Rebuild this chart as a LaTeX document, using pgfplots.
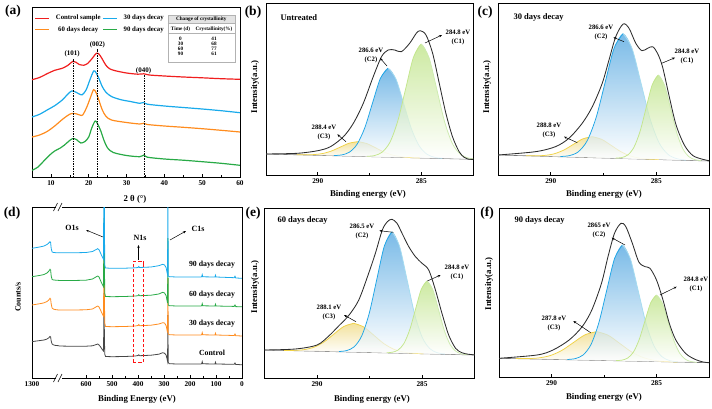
\documentclass[border=0pt]{standalone}
\usepackage{fontspec}
\setmainfont{Liberation Serif}
\usepackage{pgfplots}
\usepackage{pgfplotstable}
\pgfplotsset{compat=1.18}
\usetikzlibrary{arrows.meta}

\definecolor{cRed}{RGB}{240,30,30}
\definecolor{cBlue}{RGB}{25,170,235}
\definecolor{cOrange}{RGB}{255,140,30}
\definecolor{cGreen}{RGB}{40,170,70}
\definecolor{cCtrl}{RGB}{70,70,70}
\definecolor{envC}{RGB}{45,45,45}
\definecolor{baseC}{RGB}{115,115,115}
\definecolor{cOneL}{RGB}{195,230,140}
\definecolor{cOneR}{RGB}{205,235,175}
\definecolor{cOneF}{RGB}{185,225,125}
\definecolor{cTwoL}{RGB}{30,165,230}
\definecolor{cTwoR}{RGB}{165,220,240}
\definecolor{cTwoF}{RGB}{70,160,222}
\definecolor{cThrL}{RGB}{240,210,70}
\definecolor{cThrF}{RGB}{238,215,120}
\definecolor{boxRed}{RGB}{255,20,20}

% ---------- C 1s fits: untreated ----------
\pgfplotstableread{
E y
287.625 18.67
287.25 19.49
286.875 23.02
286.5 33.22
286.125 54.62
285.75 86.52
285.375 117.82
285.0 131.03
284.625 117.43
284.25 85.73
283.875 53.43
283.5 31.63
283.125 21.03
282.75 17.10
282.375 15.88
}\bCone
\pgfplotstableread{
E y
289.225 19.46
288.85 20.06
288.475 22.77
288.1 30.71
287.725 47.37
287.35 72.27
286.975 96.57
286.6 106.87
286.225 96.17
285.85 71.47
285.475 46.18
285.1 29.12
284.725 20.78
284.35 17.67
283.975 16.68
}\bCtwo
\pgfplotstableread{
E y
291.025 20.25
290.6 20.15
290.175 20.42
289.75 21.53
289.325 24.09
288.9 28.01
288.475 31.84
288.05 33.34
287.625 31.39
287.2 27.11
286.775 22.74
286.35 19.74
285.925 18.17
285.5 17.45
285.075 17.10
}\bCthree
\pgfplotstableread{
E y
292.5 21.0
290.99 21.7
290.0 24.3
289.39 28.3
288.76 38.3
288.28 51.7
287.80 71.7
287.32 98.3
286.92 118.3
286.60 125.0
286.28 125.0
285.96 123.3
285.56 131.7
285.24 141.7
285.05 144.3
284.77 140.0
284.45 121.7
284.13 91.7
283.81 61.7
283.49 38.3
283.17 23.3
282.93 17.7
282.74 15.9
282.5 15.6
}\bEnv

% ---------- 30 days ----------
\pgfplotstableread{
E y
286.93 16.85
286.64 17.42
286.35 20.02
286.06 27.59
285.77 43.43
285.48 67.10
285.19 90.27
284.90 100.04
284.61 89.93
284.32 66.40
284.03 42.39
283.74 26.19
283.45 18.28
283.16 15.34
282.87 14.41
}\cCone
\pgfplotstableread{
E y
289.545 18.51
289.12 19.36
288.695 23.21
288.27 34.37
287.845 57.80
287.42 92.76
286.995 127.00
286.57 141.44
286.145 126.49
285.72 91.74
285.295 56.27
284.87 32.33
284.445 20.66
284.02 16.30
283.595 14.94
}\cCtwo
\pgfplotstableread{
E y
291.18 19.26
290.73 19.17
290.28 19.59
289.83 21.24
289.38 24.95
288.93 30.60
288.48 36.12
288.03 38.32
287.58 35.58
287.13 29.52
286.68 23.33
286.23 19.08
285.78 16.89
285.33 15.93
284.88 15.48
}\cCthree
\pgfplotstableread{
E y
292.5 20.0
290.73 23.3
289.78 28.3
289.14 36.7
288.51 51.7
288.03 68.3
287.56 91.7
287.24 115.0
286.92 138.3
286.57 151.0
286.29 146.7
285.97 131.7
285.68 124.3
285.41 126.7
285.17 128.3
284.94 121.7
284.70 108.0
284.38 78.0
284.06 50.0
283.67 30.0
283.27 19.5
282.8 15.7
282.5 14.3
}\cEnv

% ---------- 60 days ----------
\pgfplotstableread{
E y
286.685 25.25
286.41 25.77
286.135 28.02
285.86 34.54
285.585 48.21
285.31 68.62
285.035 88.60
284.76 97.03
284.485 88.32
284.21 68.07
283.935 47.39
283.66 33.44
283.385 26.64
283.11 24.12
282.835 23.33
}\eCone
\pgfplotstableread{
E y
288.95 26.50
288.59 27.40
288.23 31.20
287.87 42.10
287.51 64.90
287.15 98.90
286.79 132.20
286.43 146.27
286.07 131.84
285.71 98.18
285.35 63.82
284.99 40.66
284.63 29.40
284.27 25.24
283.91 23.98
}\eCtwo
\pgfplotstableread{
E y
291.575 27.60
291.1 27.62
290.625 28.32
290.15 30.73
289.675 35.94
289.2 43.82
288.725 51.53
288.25 54.68
287.775 51.06
287.3 42.87
286.825 34.51
286.35 28.83
285.875 25.95
285.4 24.77
284.925 24.27
}\eCthree
\pgfplotstableread{
E y
292.5 28.0
291.03 29.0
290.0 33.0
289.44 42.0
288.97 52.0
288.49 62.5
288.01 78.0
287.54 104.7
287.22 124.7
286.89 148.0
286.65 156.3
286.43 158.7
286.19 154.7
285.95 144.7
285.63 131.3
285.31 121.3
285.0 114.7
284.68 108.0
284.36 88.0
284.05 64.7
283.73 43.0
283.4 29.7
283.1 25.3
282.78 23.7
282.5 23.2
}\eEnv

% ---------- 90 days ----------
\pgfplotstableread{
E y
286.925 16.40
286.65 16.87
286.375 18.93
286.1 24.89
285.825 37.38
285.55 56.03
285.275 74.29
285.0 82.00
284.725 74.05
284.45 55.55
284.175 36.66
283.9 23.93
283.625 17.72
283.35 15.41
283.075 14.70
}\fCone
\pgfplotstableread{
E y
289.245 17.53
288.87 18.39
288.495 22.03
288.12 32.46
287.745 54.28
287.37 86.79
286.995 118.65
286.62 132.11
286.245 118.32
285.87 86.13
285.495 53.29
285.12 31.14
284.745 20.38
284.37 16.41
283.995 15.22
}\fCtwo
\pgfplotstableread{
E y
291.7 18.41
291.15 18.43
290.6 19.12
290.05 21.50
289.5 26.70
288.95 34.55
288.4 42.23
287.85 45.35
287.3 41.74
286.75 33.58
286.2 25.25
285.65 19.57
285.1 16.70
284.55 15.52
284.0 15.02
}\fCthree
\pgfplotstableread{
E y
292.5 18.7
290.69 22.0
289.93 27.0
289.16 37.0
288.54 50.3
288.08 67.0
287.62 93.7
287.31 120.3
287.0 143.7
286.69 153.7
286.46 150.3
286.15 133.7
285.84 115.0
285.54 110.3
285.31 108.7
285.0 97.0
284.69 77.0
284.39 53.7
284.08 37.0
283.62 23.7
283.17 17.7
282.78 15.0
282.5 14.3
}\fEnv

\newcommand\fs[1]{\fontsize{#1}{#1}\selectfont\bfseries}

\tikzset{
  lbl/.style={font=\fontsize{6.7}{9}\selectfont\bfseries, align=center},
  arr/.style={-{Stealth[length=3pt,width=2.4pt]}, line width=0.5pt, black},
}

\pgfplotsset{
  panel/.style={
    scale only axis, anchor=south west,
    axis line style={line width=0.8pt},
    tick align=inside, xtick pos=lower, ytick=\empty,
    major tick length=3pt, minor tick length=1.8pt,
    every tick/.style={black, line width=0.6pt},
    tick label style={font=\fs{7.3}},
    /pgf/number format/assume math mode=true,
    ymin=0,
  },
  xps/.style={panel, xmin=282.5, xmax=292.5, x dir=reverse,
    xtick={285,290}, minor xtick={287.5}},
  cfill/.style={draw=none, top color=#1, bottom color=white, fill opacity=0.72, smooth},
  cline/.style={#1, line width=0.75pt, smooth},
  envline/.style={envC, line width=0.85pt, smooth},
}

% one fitted component: shaded area, then its outline (left and right flanks)
\newcommand\component[5]{% table, fill, left line, right line, centre
  \addplot[cfill=#2] table {#1} -- cycle;
  \addplot[cline=#3, restrict x to domain=#5:300] table {#1};
  \addplot[cline=#4, restrict x to domain=270:#5] table {#1};
}

\begin{document}
\begin{tikzpicture}[x=1pt,y=1pt]
\path[use as bounding box] (0,0) rectangle (712,408);

% ================= (a) XRD =================
\begin{axis}[panel, at={(32pt,231pt)}, width=208pt, height=170pt,
  xmin=5, xmax=60, ymax=170,
  xtick={10,20,30,40,50,60}, minor xtick={15,25,35,45,55},
  legend columns=2,
  legend style={at={(0.012,0.965)}, anchor=north west, draw=none, fill=none,
    font=\fs{6.8}, inner sep=0pt, row sep=1pt,
    /tikz/every odd column/.append style={column sep=4pt}},
  legend image code/.code={\draw[#1, line width=1.2pt] (0pt,0pt) -- (14pt,0pt);},
]
\addplot[cRed, line width=1.2pt, smooth] coordinates {
(5,97.3) (7,99.5) (9,103.3) (11,106.7) (13,108.7) (14.5,111.7) (15.8,115.7) (16.6,114.8)
(17.5,112.5) (18.7,111.8) (19.8,113.8) (21,119) (22,123.7) (22.7,123) (23.5,118.5)
(24.5,112) (25.5,108.3) (27,106.3) (30,104) (33,102.8) (34.6,103.2) (36,102)
(40,101) (45,100) (50,99.2) (55,98.3) (60,97.7)};
\addlegendentry{Control sample}
\addplot[cBlue, line width=1.2pt, smooth] coordinates {
(5,60) (7,62.7) (9,67) (11,71.3) (13,77) (14.5,83) (15.5,86) (16.5,85) (17.5,83)
(18.3,82.3) (19.3,87) (20.3,97) (21.3,106) (21.9,104.5) (22.7,98.5) (23.5,91)
(24.5,85) (26,80.5) (28.5,77.3) (31,75.5) (33.5,73.7) (34.5,74.5) (35.5,72.8)
(40,71) (45,69.5) (50,68) (55,66.3) (60,64.3)};
\addlegendentry{30 days decay}
\addplot[cOrange, line width=1.2pt, smooth] coordinates {
(5,40) (7,42) (9,45.5) (11,51) (13,57.5) (14.5,61.7) (15.5,63.5) (16.6,63.3)
(17.6,62) (18.4,62) (19.5,70) (20.5,80) (21.3,87.3) (22,84) (22.8,75.5) (23.6,67)
(24.5,61) (26,57) (30,54.5) (33.5,53) (34.6,53.8) (35.5,52.5) (40,51) (45,49.7)
(50,48.3) (55,46.7) (60,45)};
\addlegendentry{60 days decay}
\addplot[cGreen, line width=1.2pt, smooth] coordinates {
(5,6.7) (6.5,9.7) (8,15.5) (9.6,21.7) (11,26) (12.5,29) (13.5,31.7) (14.8,36)
(15.8,38.5) (16.8,37.3) (17.9,34) (19,35.5) (20,40) (20.8,49) (21.7,56) (22.3,53.5)
(23.2,46) (24,37) (25,29) (26.5,24.5) (30,21.5) (33.5,20.3) (34.6,22) (35.5,19.8)
(40,18) (45,16.8) (50,15.3) (55,13.7) (60,11.7)};
\addlegendentry{90 days decay}
\addplot[forget plot, black, line width=0.5pt, dash pattern=on 1.5pt off 1pt] coordinates {(15.8,0) (15.8,118)};
\addplot[forget plot, black, line width=0.5pt, dash pattern=on 1.5pt off 1pt] coordinates {(22.3,0) (22.3,128)};
\addplot[forget plot, black, line width=0.5pt, dash pattern=on 1.5pt off 1pt] coordinates {(34.6,0) (34.6,101.7)};
\node[font=\fs{7}] at (axis cs:15.6,123.3) {(101)};
\node[font=\fs{7}] at (axis cs:22.3,132.3) {(002)};
\node[font=\fs{7}] at (axis cs:34.5,106) {(040)};
\end{axis}

% crystallinity table
\fill[gray!22] (167.7,393) rectangle (235,385);
\draw[gray!60, line width=0.4pt] (167.7,393) rectangle (235,346);
\draw[gray!60, line width=0.3pt] (167.7,385) -- (235,385);
\draw[gray!60, line width=0.3pt] (167.7,374.5) -- (235,374.5);
\node[font=\fs{5.2}] at (201.3,389) {Change of crystallinity};
\node[font=\fs{5.2}] at (180.5,379) {Time (d)};
\node[font=\fs{5.2}] at (214,379) {Crystallinity(\%)};
\node[font=\fs{5.2}] at (180.5,369.7) {0};  \node[font=\fs{5.2}] at (214,369.7) {41};
\node[font=\fs{5.2}] at (180.5,364.7) {30}; \node[font=\fs{5.2}] at (214,364.7) {68};
\node[font=\fs{5.2}] at (180.5,359.3) {60}; \node[font=\fs{5.2}] at (214,359.3) {77};
\node[font=\fs{5.2}] at (180.5,354) {90};   \node[font=\fs{5.2}] at (214,354) {61};

\node[font=\fs{8.8}] at (135,209) {2 θ (°)};
\node[font=\fs{13.5}] at (13,397) {(a)};

% ================= (b) untreated =================
\begin{axis}[xps, at={(266pt,233pt)}, width=207pt, height=172pt, ymax=172]
\addplot[baseC, line width=0.6pt] coordinates {(292.5,21.0) (282.5,15.7)};
\component{\bCthree}{cThrF}{cThrL}{cThrL}{288.05}
\component{\bCtwo}{cTwoF}{cTwoL}{cTwoR}{286.6}
\component{\bCone}{cOneF}{cOneL}{cOneR}{285.0}
\addplot[envline] table {\bEnv};
\end{axis}
\node[font=\fs{13.5}] at (253,396) {(b)};
\node[font=\fs{8.5}, anchor=west] at (277,390) {Untreated};
\node[lbl] at (458,371) {284.8 eV\\(C1)};
\draw[arr] (425,365) -- (442,373);
\node[lbl] at (371,353) {286.6 eV\\(C2)};
\draw[arr] (387,342) -- (380,350);
\node[lbl] at (324,276) {288.4 eV\\(C3)};
\draw[arr] (346,266.3) -- (337.3,273.7);
\node[font=\fs{8.8}] at (368,214) {Binding energy (eV)};
\node[font=\fs{8.8}, rotate=90] at (255,321) {Intensity(a.u.)};

% ================= (c) 30 days =================
\begin{axis}[xps, at={(498pt,233pt)}, width=211pt, height=172pt, ymax=172]
\addplot[baseC, line width=0.6pt] coordinates {(292.5,20.0) (282.5,14.0)};
\component{\cCthree}{cThrF}{cThrL}{cThrL}{288.03}
\component{\cCtwo}{cTwoF}{cTwoL}{cTwoR}{286.57}
\component{\cCone}{cOneF}{cOneL}{cOneR}{284.9}
\addplot[envline] table {\cEnv};
\end{axis}
\node[font=\fs{13.5}] at (485,396) {(c)};
\node[font=\fs{8.5}, anchor=west] at (510,391) {30 days decay};
\node[lbl] at (601,375.5) {286.6 eV\\(C2)};
\draw[arr] (624,366.3) -- (613.3,370.7);
\node[lbl] at (687,351.3) {284.8 eV\\(C1)};
\draw[arr] (661.7,344.7) -- (675,350.3);
\node[lbl] at (549,278) {288.8 eV\\(C3)};
\draw[arr] (577.3,265.3) -- (564,271.3);
\node[font=\fs{8.8}] at (604,214) {Binding energy (eV)};
\node[font=\fs{8.8}, rotate=90] at (487,321) {Intensity(a.u.)};

% ================= (d) survey =================
\begin{axis}[panel, at={(32pt,30pt)}, width=210pt, height=171pt, ymax=171,
  x dir=reverse, xmin=0, xmax=1300,
  x coord trafo/.code={\pgfmathparse{ifthenelse(#1>800,703.8+(#1-850)*0.2309,#1)}},
  xtick={0,100,200,300,400,500,600,1300},
  xticklabels={0,100,200,300,400,500,600,1300},
  minor xtick={50,150,250,350,450,550}]
% control
\addplot[cCtrl, line width=0.8pt] coordinates {
(1300,36.3) (1250,36.8) (1200,37.2) (1150,37.6) (1100,38) (1050,39) (1020,40.2) (1000,41.5)
(990,41) (980,37) (965,34) (940,33) (900,32.5) (850,32.3)};
\addplot[cCtrl, line width=0.8pt] coordinates {
(704,32) (650,31.7) (600,31.8) (575,32.2) (560,33.5) (555,34) (550,33) (545,31.5) (540,29.5)
(536,28) (533,27) (531.5,50) (530.5,85) (529.5,50) (528,24) (525,21.5) (500,21.3) (450,21.5)
(410,22) (400,22.5) (397,23.2) (394,22.3) (350,22.8) (320,23.8) (305,25.3) (298,24.8) (292,23)
(289,20) (286.5,17) (285.5,40) (285,63) (284.5,40) (283.5,15.5) (280,14.3) (250,14) (200,14)
(160,14) (155,14.2) (153,16.3) (151,14.2) (104,14) (102,15.8) (100,14) (30,13.7) (27,15)
(24,13.6) (0,13.2)};
% 30 days
\addplot[cOrange, line width=0.8pt] coordinates {
(1300,73) (1250,73.5) (1200,74) (1150,74.5) (1100,75.2) (1050,76.5) (1020,78) (1000,79.7)
(990,79) (980,74) (965,70) (940,68.8) (900,68.3) (850,68)};
\addplot[cOrange, line width=0.8pt] coordinates {
(704,68) (650,68) (600,68.2) (575,69) (560,71.3) (555,72) (550,71) (545,68.5) (540,65.5)
(536,63.5) (533,62) (531.5,95) (530.5,125) (529.5,95) (528,55) (525,51.5) (500,51.3) (450,51.5)
(410,52) (400,52.5) (397,53.5) (394,52.3) (350,52.8) (320,54) (305,55.3) (298,55) (292,52.5)
(289,49) (286.5,45.5) (285.5,75) (285,100) (284.5,75) (283.5,44) (280,43.3) (250,43) (200,43)
(160,43) (155,43.2) (153,45.3) (151,43.2) (104,43) (102,44.8) (100,43) (30,42.5) (27,44)
(24,42.3) (0,42)};
% 60 days
\addplot[cGreen, line width=0.8pt] coordinates {
(1300,101.3) (1250,101.8) (1200,102.3) (1150,102.8) (1100,103.5) (1050,105) (1020,106.8)
(1000,108.7) (990,108) (980,102) (965,98.5) (940,98) (900,97.8) (850,97.6)};
\addplot[cGreen, line width=0.8pt] coordinates {
(704,97.6) (650,97.5) (600,97.8) (575,99) (560,101.3) (555,102) (550,101) (545,98) (540,95)
(536,93) (533,91.5) (531.5,130) (530.5,160) (529.5,130) (528,85) (525,81.5) (500,81.3)
(450,81.5) (410,82) (400,82.3) (397,83.3) (394,82.3) (350,82.8) (320,84) (305,85.7) (298,85)
(292,82.5) (289,78.5) (286.5,75) (285.5,110) (285,140) (284.5,110) (283.5,73) (280,72.3)
(250,72) (200,72) (160,72) (155,72.2) (153,74.3) (151,72.2) (104,72) (102,73.8) (100,72)
(30,71.6) (27,73) (24,71.4) (0,71.2)};
% 90 days
\addplot[cBlue, line width=0.8pt] coordinates {
(1300,129.7) (1250,130.2) (1200,130.7) (1150,131.3) (1100,132) (1050,133.5) (1020,135)
(1000,136.3) (990,135.5) (980,129.5) (965,126) (940,125.5) (900,125.3) (850,125.2)};
\addplot[cBlue, line width=0.8pt] coordinates {
(704,125.3) (650,125.2) (600,125.5) (575,126.5) (560,128.6) (555,129.3) (550,128.3)
(545,125.5) (540,122.5) (536,120.5) (533,119) (531.5,180) (530.5,210) (529.5,180) (528,113)
(525,110) (500,109.7) (450,109.8) (410,110.2) (400,110.5) (397,111.5) (394,110.5) (350,111)
(320,112.3) (305,113.7) (298,113) (292,110.5) (289,106.5) (286.5,103.5) (285.5,150) (285,172)
(284.5,150) (283.5,102) (280,101.3) (250,101) (200,101) (160,101) (155,101.2) (153,103.3)
(151,101.2) (104,101) (102,102.8) (100,101) (30,100.3) (27,101.8) (24,100) (0,99.7)};
\end{axis}
% N1s region marker: dashed red frame built from short strokes
\foreach \yy in {46,51,...,141} {
  \draw[boxRed, line width=1pt] (133,\yy) -- (133,{\yy+3.3});
  \draw[boxRed, line width=1pt] (143.3,\yy) -- (143.3,{\yy+3.3});
}
\foreach \xx in {133,138.2} {
  \draw[boxRed, line width=1pt] (\xx,147) -- ({\xx+3.3},147);
  \draw[boxRed, line width=1pt] (\xx,46) -- ({\xx+3.3},46);
}
\draw[boxRed, line width=1pt] (143.3,144) -- (143.3,147);
% axis break marks
\fill[white] (55.5,27) rectangle (62,33);
\draw[line width=0.6pt] (53.5,26) -- (57.5,34);
\draw[line width=0.6pt] (58,26) -- (62,34);
\fill[white] (55.5,198) rectangle (62,204);
\draw[line width=0.6pt] (53.5,197) -- (57.5,205);
\draw[line width=0.6pt] (58,197) -- (62,205);
\node[font=\fs{13.5}] at (12,195) {(d)};
\node[font=\fs{8}] at (72,180) {O1s};
\draw[arr] (103,171) -- (86,178);
\node[font=\fs{8}] at (198,179) {C1s};
\draw[arr] (170,168) -- (186,177);
\node[font=\fs{8}] at (140,170) {N1s};
\draw[arr] (138.5,148) -- (138.5,163);
\node[font=\fs{7.8}] at (212,143) {90 days decay};
\node[font=\fs{7.8}] at (212,113) {60 days decay};
\node[font=\fs{7.8}] at (212,84) {30 days decay};
\node[font=\fs{7.8}] at (212,55) {Control};
\node[font=\fs{8.8}] at (137,9) {Binding Energy (eV)};
\node[font=\fs{8}, rotate=90] at (18,111) {Counts/s};

% ================= (e) 60 days =================
\begin{axis}[xps, at={(264.5pt,30pt)}, width=210pt, height=170pt, ymax=170]
\addplot[baseC, line width=0.6pt] coordinates {(292.5,28.0) (282.5,23.0)};
\component{\eCthree}{cThrF}{cThrL}{cThrL}{288.25}
\component{\eCtwo}{cTwoF}{cTwoL}{cTwoR}{286.43}
\component{\eCone}{cOneF}{cOneL}{cOneR}{284.76}
\addplot[envline] table {\eEnv};
\end{axis}
\node[font=\fs{13.5}] at (253,195) {(e)};
\node[font=\fs{8.5}, anchor=west] at (274,188) {60 days decay};
\node[lbl] at (362,177) {286.5 eV\\(C2)};
\draw[arr] (393.3,175.7) -- (379.3,177.3);
\node[lbl] at (457,135.5) {284.8 eV\\(C1)};
\draw[arr] (427.3,127) -- (440.7,133);
\node[lbl] at (329,96) {288.1 eV\\(C3)};
\draw[arr] (356,86.3) -- (344,93);
\node[font=\fs{8.8}] at (372,9) {Binding energy (eV)};
\node[font=\fs{8.8}, rotate=90] at (255,121) {Intensity(a.u.)};

% ================= (f) 90 days =================
\begin{axis}[xps, at={(499pt,31pt)}, width=210pt, height=169pt, ymax=169]
\addplot[baseC, line width=0.6pt] coordinates {(292.5,18.7) (282.5,14.3)};
\component{\fCthree}{cThrF}{cThrL}{cThrL}{287.85}
\component{\fCtwo}{cTwoF}{cTwoL}{cTwoR}{286.62}
\component{\fCone}{cOneF}{cOneL}{cOneR}{285.0}
\addplot[envline] table {\fEnv};
\end{axis}
\node[font=\fs{13.5}] at (487,195) {(f)};
\node[font=\fs{8.5}, anchor=west] at (511,188) {90 days decay};
\node[lbl] at (599,177.5) {2865 eV\\(C2)};
\draw[arr] (625,163) -- (611.7,170.3);
\node[lbl] at (696,123.5) {284.8 eV\\(C1)};
\draw[arr] (660,113) -- (676.7,121.3);
\node[lbl] at (554,85) {287.8 eV\\(C3)};
\draw[arr] (590.7,75.3) -- (573.3,87);
\node[font=\fs{8.8}] at (604,11) {Binding energy (eV)};
\node[font=\fs{8.8}, rotate=90] at (489,124) {Intensity(a.u.)};

\end{tikzpicture}
\end{document}
